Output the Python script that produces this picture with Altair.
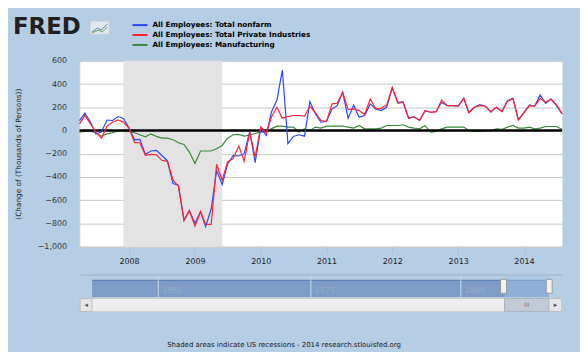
import altair as alt
import pandas as pd

# ---------------- data ----------------
months = pd.date_range("2007-04-01", "2014-08-01", freq="MS")

series_names = [
    "All Employees: Total nonfarm",
    "All Employees: Total Private Industries",
    "All Employees: Manufacturing",
]
series_colors = ["#2a48ff", "#ff2233", "#3a8a3a"]

nonfarm = [
    85, 150, 72, -30, -12, 90, 86, 120, 104,
    20, -80, -77, -206, -177, -171, -216, -262, -457, -471, -771, -691,
    -800, -700, -829, -677, -343, -466, -290, -214, -220, -200, -10, -277,
    20, -43, 157, 263, 520, -114, -51, -37, -49, 249, 143, 71,
    77, 186, 214, 329, 106, 220, 114, 129, 229, 186, 171, 200,
    366, 243, 246, 106, 118, 86, 171, 157, 163, 243, 214, 214,
    209, 277, 157, 200, 223, 209, 157, 200, 163, 257, 277, 91,
    157, 220, 209, 306, 234, 271, 214, 143,
]
private = [
    57, 130, 57, -14, -66, 37, 71, 91, 71,
    20, -106, -106, -214, -206, -209, -257, -266, -429, -480, -777, -691,
    -823, -700, -809, -809, -291, -429, -271, -243, -134, -266, -14, -229,
    29, -20, 114, 200, 106, 120, 129, 129, 123, 209, 151, 86,
    77, 229, 234, 329, 180, 186, 171, 137, 271, 186, 191, 220,
    371, 234, 243, 106, 118, 86, 171, 157, 160, 263, 214, 214,
    209, 277, 151, 200, 214, 209, 163, 200, 163, 249, 277, 91,
    151, 214, 209, 277, 243, 271, 220, 143,
]
manufacturing = [
    -14, -9, -9, -20, -49, -29, -20, -3, -3,
    -9, -20, -37, -54, -29, -51, -66, -66, -80, -106, -120, -186,
    -285, -177, -177, -177, -157, -129, -66, -37, -34, -49, -40, -26,
    -14, -9, 14, 37, 37, 29, 29, -14, 14, 0, 29, 20,
    37, 37, 37, 37, 29, 20, 43, 14, 14, 14, 20, 43,
    43, 43, 49, 29, 20, 14, 43, -14, -9, 14, 29, 29,
    29, 29, 0, -9, -9, -3, -3, 14, 9, 29, 43, 20,
    20, 29, 14, 20, 34, 34, 34, 9,
]

recession_start = ["2007-12-01T00:00:00"]
recession_end = ["2009-06-01T00:00:00"]

year_ticks = [2008, 2009, 2010, 2011, 2012, 2013, 2014]
y_ticks = [-1000, -800, -600, -400, -200, 0, 200, 400, 600]

y_title = "(Change of (Thousands of Persons))"
footer = "Shaded areas indicate US recessions - 2014 research.stlouisfed.org"
nav_labels = ["1950", "1975", "2000"]

# ---------------- tables ----------------
frames = []
for name, vals in zip(series_names, [nonfarm, private, manufacturing]):
    frames.append(pd.DataFrame({"date": months, "value": vals, "series": name}))
df = pd.concat(frames, ignore_index=True)
rec_df = pd.DataFrame({"start": pd.to_datetime(recession_start), "end": pd.to_datetime(recession_end)})
zero_df = pd.DataFrame({"y": [0]})
one = pd.DataFrame({"k": [0]})

BG = "#b5cde5"
W, H = 486, 187

x_scale = alt.Scale(domain=[alt.DateTime(year=2007, month=4, date=1),
                            alt.DateTime(year=2014, month=8, date=1)])
y_scale = alt.Scale(domain=[-1000, 600], nice=False, zero=False)

x_axis = alt.Axis(
    values=[alt.DateTime(year=y, month=1, date=1) for y in year_ticks],
    format="%Y", grid=False, domain=False, ticks=True, tickSize=7,
    tickColor="#a8bed8", labelPadding=4, labelFont="DejaVu Sans",
    labelFontSize=8, labelColor="#222222", labelFlush=False, title=None,
)
y_axis = alt.Axis(
    values=y_ticks, format=",d", grid=True, gridColor="#c8c8c8", gridWidth=1,
    domain=False, ticks=False, labelPadding=13, labelFont="DejaVu Sans",
    labelFontSize=8, labelColor="#333333", title=y_title, titleFont="DejaVu Sans",
    titleFontSize=7.4, titleFontWeight="normal", titleColor="#222222",
    titleX=-61, titleY=93.5, titleAngle=-90, titleAlign="center", titleBaseline="middle",
)

color = alt.Color(
    "series:N",
    scale=alt.Scale(domain=series_names, range=series_colors),
    legend=alt.Legend(
        orient="none", legendX=54.9, legendY=-42, title=None,
        symbolType="M-1.6,0H1.6", symbolSize=90, symbolStrokeWidth=2,
        labelFont="DejaVu Sans", labelFontWeight="bold", labelFontSize=7.3,
        labelColor="#000000", labelOffset=6.6, rowPadding=0, padding=0,
    ),
)

layers = []

# recession shading
layers.append(
    alt.Chart(rec_df).mark_rect(color="#e3e3e3").encode(
        x=alt.X("start:T", scale=x_scale, axis=x_axis, title=None),
        x2="end:T",
    )
)

def series_layer(name):
    return alt.Chart(df).transform_filter(alt.datum.series == name).mark_line(
        strokeWidth=1.2
    ).encode(
        x=alt.X("date:T", scale=x_scale, axis=x_axis, title=None),
        y=alt.Y("value:Q", scale=y_scale, axis=y_axis),
        color=color,
    )

layers.append(series_layer(series_names[2]))
layers.append(
    alt.Chart(zero_df).mark_rule(color="black", strokeWidth=2.5).encode(
        y=alt.Y("y:Q", scale=y_scale, axis=y_axis)
    )
)
layers.append(series_layer(series_names[0]))
layers.append(series_layer(series_names[1]))

# ---------------- decorations (header, navigator, footer) ----------------
def rect(x, x2, y, y2, fill, stroke=None, opacity=1.0):
    kw = dict(fill=fill, opacity=opacity)
    if stroke:
        kw.update(stroke=stroke, strokeWidth=1)
    return alt.Chart(one).mark_rect(**kw).encode(
        x=alt.value(x), x2=alt.value(x2), y=alt.value(y), y2=alt.value(y2)
    )

def text(t, x, y, size, color="#000", weight="normal", align="left", baseline="middle", font="DejaVu Sans"):
    return alt.Chart(one).mark_text(
        text=t, fontSize=size, color=color, fontWeight=weight, align=align,
        baseline=baseline, font=font,
    ).encode(x=alt.value(x), y=alt.value(y))

def rule(x, x2, y, y2, color, width=1):
    return alt.Chart(one).mark_rule(color=color, strokeWidth=width).encode(
        x=alt.value(x), x2=alt.value(x2), y=alt.value(y), y2=alt.value(y2)
    )

# FRED logo
layers.append(text("FRED", -67, -27.3, 23, color="#231f20", weight="bold", baseline="alphabetic"))
layers.append(rect(10.7, 30, -40, -26.7, "#e4e8ec", stroke="#c9ced4"))
layers.append(rule(12.5, 18, -29, -33, "#5b7fb8"))
layers.append(rule(18, 22, -33, -31, "#5b7fb8"))
layers.append(rule(22, 28, -31, -37, "#5b7fb8"))
layers.append(rule(12.5, 19, -28, -31, "#6aa05a"))
layers.append(rule(19, 23, -31, -29, "#6aa05a"))
layers.append(rule(23, 28, -29, -34, "#6aa05a"))

# navigator
layers.append(rule(0, 486, 215.7, 215.7, "#9eb0c6"))
layers.append(rect(12.7, 472.7, 221, 237.7, "#7d9dc8"))
layers.append(rule(12.7, 472.7, 221, 221, "#4f78b0"))
layers.append(rect(428, 472.7, 216, 237.7, "#a9c6ec", opacity=0.45))
for lx, lab in zip([79.3, 233, 384], nav_labels):
    layers.append(rule(lx, lx, 216, 237.7, "#c9d8ea"))
    layers.append(text(lab, lx + 4, 232, 8, color="#9aacc2"))
layers.append(rect(424, 430, 220, 234, "#f2f2f2", stroke="#9a9a9a"))
layers.append(rect(470, 476, 220, 234, "#f2f2f2", stroke="#9a9a9a"))
layers.append(rect(0.7, 12.7, 239.3, 252.3, "#e6e6e6", stroke="#bcbcbc"))
layers.append(rect(12.7, 428, 239.3, 252.3, "#eeeeee", stroke="#cccccc"))
layers.append(rect(428, 472.7, 239.3, 252.3, "#c3ccd6", stroke="#aab4bf"))
layers.append(rect(472.7, 485.7, 239.3, 252.3, "#e6e6e6", stroke="#bcbcbc"))
layers.append(text("III", 450.3, 246, 6, color="#7a7a7a", align="center"))
layers.append(text("\u25C2", 6.7, 246, 7, color="#555555", align="center"))
layers.append(text("\u25B8", 479.2, 246, 7, color="#555555", align="center"))

# footer
layers.append(text(footer, 206, 285.7, 7, color="#222222", align="center"))

chart = alt.layer(*layers).properties(
    width=W, height=H,
    autosize=alt.AutoSizeParams(type="none"),
    padding={"left": 72, "top": 52, "right": 18, "bottom": 105},
    background=BG,
).configure_view(fill="white", stroke="#dcdcdc")

chart.save("out.html", embed_options={"renderer": "svg", "actions": False})
